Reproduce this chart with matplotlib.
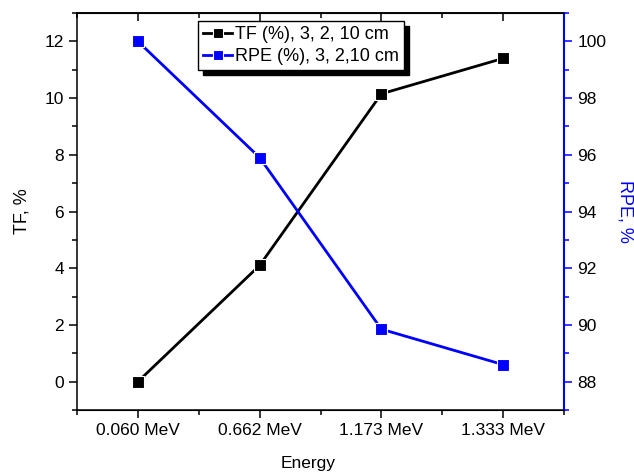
import numpy as np
import matplotlib
matplotlib.use("Agg")
import matplotlib.pyplot as plt

plt.rcParams['font.family'] = ['Liberation Sans', 'DejaVu Sans']

# data
energies = ['0.060 MeV', '0.662 MeV', '1.173 MeV', '1.333 MeV']
tf_vals = [0.0, 4.1, 10.15, 11.4]
rpe_vals = [100.0, 95.9, 89.85, 88.6]

x = np.arange(len(energies))

fig = plt.figure(figsize=(6.34, 4.73), dpi=100)
ax1 = fig.add_axes([0.1215, 0.1332, 0.7681, 0.8393])
ax2 = ax1.twinx()

l1, = ax1.plot(x, tf_vals, color='black', lw=2, marker='s', ms=9,
               mec='white', mew=0.8, label='TF (%), 3, 2, 10 cm')
l2, = ax2.plot(x, rpe_vals, color='#0000ff', lw=2, marker='s', ms=9,
               mec='white', mew=0.8, label='RPE (%), 3, 2,10 cm')

ax1.set_xlim(-0.5, len(energies) - 0.5)
ax1.set_ylim(-1, 13)
ax2.set_ylim(87, 101)

ax1.set_xticks(x)
ax1.set_xticklabels(energies)
ax1.set_xticks(np.arange(-0.5, len(energies), 1), minor=True)
ax1.set_yticks(np.arange(0, 13, 2))
ax1.set_yticks(np.arange(-1, 14, 2), minor=True)
ax2.set_yticks(np.arange(88, 101, 2))
ax2.set_yticks(np.arange(87, 102, 2), minor=True)

fs = 12.5
ax1.tick_params(which='major', length=6, width=1.1, labelsize=fs)
ax1.tick_params(which='minor', length=3.5, width=1.1)
ax2.tick_params(which='major', length=6, width=1.1, labelsize=fs, colors='#0000ff', labelcolor='black')
ax2.tick_params(which='minor', length=3.5, width=1.1, colors='#0000ff')

# top ticks point inward
top = ax1.secondary_xaxis('top')
top.set_xticks(x)
top.set_xticks(np.arange(-0.5, len(energies), 1), minor=True)
top.set_xticklabels([])
top.tick_params(which='major', direction='in', length=6, width=1.1)
top.tick_params(which='minor', direction='in', length=3.5, width=1.1)
top.spines['top'].set_linewidth(1.1)

for s in ax1.spines.values():
    s.set_linewidth(1.1)
ax2.spines['right'].set_color('#0000ff')
ax2.spines['right'].set_linewidth(1.5)
ax2.spines['left'].set_visible(False)

ax1.set_ylabel('TF, %', fontsize=13, labelpad=10)
ax2.set_ylabel('RPE, %', fontsize=13, color='#0000ff', rotation=270, labelpad=20)
ax1.set_xlabel('Energy', fontsize=fs)
ax1.xaxis.set_label_coords(0.475, -0.117)

ax2.legend(handles=[l1, l2], loc='upper left', bbox_to_anchor=(0.248, 0.98),
           fontsize=13, frameon=True, fancybox=False, edgecolor='black',
           shadow={'color': 'black', 'alpha': 1, 'ox': 3.5, 'oy': -3.5},
           handlelength=1.6, markerscale=0.75,
           borderpad=0.3, labelspacing=0.25, handletextpad=0.15, borderaxespad=0)

fig.savefig('out.png', dpi=100)
